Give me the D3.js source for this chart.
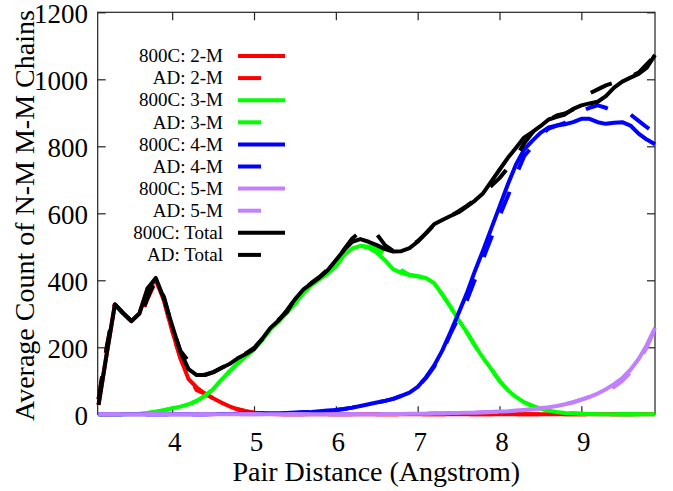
<!DOCTYPE html>
<html>
<head>
<meta charset="utf-8">
<script src="https://cdn.jsdelivr.net/npm/d3@7"></script>
<style>
  html, body { margin: 0; padding: 0; background: #fff; }
  svg { display: block; }
  text { font-family: "Liberation Serif", "Times New Roman", serif; fill: #000; }
</style>
</head>
<body>
<svg id="chart" width="673" height="491"></svg>
<script>
// ---- data ----
const distance = [3.1,3.2,3.3,3.4,3.5,3.6,3.7,3.8,3.9,4.0,
  4.1,4.2,4.3,4.4,4.5,4.6,4.7,4.8,4.9,5.0,
  5.1,5.2,5.3,5.4,5.5,5.6,5.7,5.8,5.9,6.0,
  6.1,6.2,6.3,6.4,6.5,6.6,6.7,6.8,6.9,7.0,
  7.1,7.2,7.3,7.4,7.5,7.6,7.7,7.8,7.9,8.0,
  8.1,8.2,8.3,8.4,8.5,8.6,8.7,8.8,8.9,9.0,
  9.1,9.2,9.3,9.4,9.5,9.6,9.7,9.8,9.9];

const m2_800C = [28,180,328,302,278,301,376,400,340,248,
  168,105,80,62,48,35,24,15,9,5,
  3,1,0,0,0,0,0,0,0,0,
  0,0,0,0,0,0,0,0,0,0,
  0,0,0,0,0,0,0,0,0,0,
  0,0,0,0,0,0,0,0,0,0,
  0,0,0,0,0,0,0,0,0];
const m2_AD = [45,200,328,302,278,285,345,398,340,248,
  168,112,72,62,48,35,24,15,9,5,
  3,1,0,0,0,0,0,0,0,0,
  0,0,0,0,0,0,0,0,0,0,
  0,0,0,0,0,0,0,0,0,0,
  0,0,0,0,0,0,0,0,0,0,
  0,0,0,0,0,0,0,0,0];

const m3_800C = [0,0,0,0,1,2,4,8,12,18,
  23,30,40,55,75,103,128,152,173,193,
  222,254,276,302,330,362,385,403,420,442,
  475,495,503,497,483,460,433,422,416,412,
  407,392,358,321,282,245,205,168,135,100,
  72,52,36,25,17,11,7,4,3,2,
  1,0,0,0,0,0,0,0,0];
const m3_AD = [0,0,0,0,1,2,4,8,12,18,
  23,30,40,55,75,103,128,152,173,193,
  222,254,276,302,330,362,385,403,420,442,
  475,495,503,500,495,478,458,430,416,412,
  407,392,358,321,282,245,205,168,135,100,
  72,52,36,25,17,11,7,4,3,2,
  1,0,0,0,0,0,0,0,0];

const m4_800C = [0,0,0,0,0,0,0,0,0,0,
  0,0,0,0,1,1,1,2,2,2,
  3,3,3,4,5,6,7,9,11,13,
  16,20,25,30,35,40,46,55,65,82,
  110,145,190,245,302,361,428,490,555,620,
  685,745,790,816,840,856,862,866,872,882,
  882,872,867,870,872,862,838,820,806];
const m4_AD = [0,0,0,0,0,0,0,0,0,0,
  0,0,0,0,1,1,1,2,2,2,
  3,3,3,4,5,6,7,9,11,13,
  16,20,25,30,35,40,46,55,65,82,
  108,142,186,240,290,340,402,465,528,592,
  650,712,770,800,832,853,862,870,888,905,
  915,922,915,905,900,895,876,857,840];

const m5_800C = [0,0,0,0,0,0,0,0,0,0,
  0,0,0,0,0,0,0,0,0,0,
  0,0,0,0,0,0,0,0,0,0,
  0,0,0,0,0,1,1,1,2,2,
  2,3,3,4,4,5,5,6,7,8,
  9,11,13,15,18,21,25,30,36,44,
  52,62,75,90,108,133,165,207,258];
const m5_AD = [0,0,0,0,0,0,0,0,0,0,
  0,0,0,0,0,0,0,0,0,0,
  0,0,0,0,0,0,0,0,0,0,
  0,0,0,0,0,1,1,1,2,2,
  2,3,3,4,4,5,5,6,7,8,
  9,11,13,15,18,21,25,30,36,44,
  52,62,70,82,100,125,158,200,255];

const total_800C = [28,180,328,302,278,301,376,407,345,265,
  187,135,117,117,125,138,150,167,180,195,
  225,258,280,310,343,372,390,408,430,460,
  490,515,523,515,505,493,486,487,496,515,
  540,567,580,592,603,620,638,660,695,730,
  765,795,826,842,860,880,888,895,912,922,
  928,933,950,975,993,1005,1016,1035,1073];
const total_AD = [45,200,328,302,280,285,348,405,350,262,
  190,158,122,118,126,138,152,165,182,198,
  225,255,282,305,345,370,392,410,432,458,
  492,525,545,550,538,505,488,488,500,517,
  540,565,580,592,606,622,640,662,682,705,
  735,768,808,840,862,878,892,898,910,925,
  958,970,982,990,998,1008,1020,1045,1070];

const xTicks = [4,5,6,7,8,9];
const yTicks = [0,200,400,600,800,1000,1200];

const seriesNames = ["800C: 2-M","AD: 2-M","800C: 3-M","AD: 3-M","800C: 4-M","AD: 4-M","800C: 5-M","AD: 5-M","800C: Total","AD: Total"];
const seriesValues = [m2_800C, m2_AD, m3_800C, m3_AD, m4_800C, m4_AD, m5_800C, m5_AD, total_800C, total_AD];
const seriesColors = ["#ff0000","#ff0000","#00ff00","#00ff00","#0000ff","#0000ff","#c080ff","#c080ff","#000000","#000000"];
const seriesDashed = [false,true,false,true,false,true,false,true,false,true];

// ---- layout ----
const svg = d3.select("#chart");
const L = 97.7, R = 655, T = 12.3, B = 414.3;
const x = d3.scaleLinear().domain([3.09, 9.9]).range([L, R]);
const y = d3.scaleLinear().domain([0, 1200]).range([B, T]);
const font = '"Liberation Serif", "Times New Roman", serif';

// frame
svg.append("rect").attr("x", L).attr("y", T).attr("width", R - L).attr("height", B - T)
  .attr("fill", "none").attr("stroke", "#222").attr("stroke-width", 1.2);

// axes (ticks inward, mirrored)
const tickLen = 8;
const gx = svg.append("g").attr("transform", `translate(0,${B})`)
  .call(d3.axisBottom(x).tickValues(xTicks).tickSize(-tickLen).tickPadding(18).tickFormat(d3.format("d")));
const gxTop = svg.append("g").attr("transform", `translate(0,${T})`)
  .call(d3.axisTop(x).tickValues(xTicks).tickSize(-tickLen).tickFormat(""));
const gy = svg.append("g").attr("transform", `translate(${L},0)`)
  .call(d3.axisLeft(y).tickValues(yTicks).tickSize(-tickLen).tickPadding(18).tickFormat(d3.format("d")));
const gyR = svg.append("g").attr("transform", `translate(${R},0)`)
  .call(d3.axisRight(y).tickValues(yTicks).tickSize(-tickLen).tickFormat(""));
[gx, gxTop, gy, gyR].forEach(g => {
  g.select(".domain").remove();
  g.selectAll(".tick line").attr("stroke", "#222").attr("stroke-width", 1.2);
});
gx.selectAll(".tick text").attr("font-family", font).attr("font-size", 27).attr("fill", "#000").attr("dx", 2);
gy.selectAll(".tick text").attr("font-family", font).attr("font-size", 27).attr("fill", "#000")
  .attr("x", 88 - L).attr("dy", "0.36em");

// axis titles
svg.append("text").attr("x", (L + R) / 2 + 0).attr("y", 481).attr("text-anchor", "middle")
  .attr("font-size", 28).text("Pair Distance (Angstrom)");
svg.append("text").attr("transform", `translate(34,421) rotate(-90)`).attr("text-anchor", "start")
  .attr("font-size", 28).text("Average Count of N-M M-M Chains");

// series lines
const line = d3.line().x((d, i) => x(distance[i])).y(d => y(d));
const dash = "23,24";
seriesValues.forEach((vals, k) => {
  svg.append("path").datum(vals)
    .attr("d", line)
    .attr("fill", "none")
    .attr("stroke", seriesColors[k])
    .attr("stroke-width", 4)
    .attr("stroke-linejoin", "round")
    .attr("stroke-dasharray", seriesDashed[k] ? dash : null);
});

// legend
const legY0 = 56, legDy = 22.1;
seriesNames.forEach((name, k) => {
  const yy = legY0 + k * legDy;
  svg.append("text").attr("x", 223).attr("y", yy).attr("dy", "0.33em").attr("text-anchor", "end")
    .attr("font-size", 19).text(name);
  svg.append("line").attr("x1", 238).attr("x2", 285).attr("y1", yy).attr("y2", yy)
    .attr("stroke", seriesColors[k]).attr("stroke-width", 4)
    .attr("stroke-dasharray", seriesDashed[k] ? dash : null);
});
</script>
</body>
</html>
